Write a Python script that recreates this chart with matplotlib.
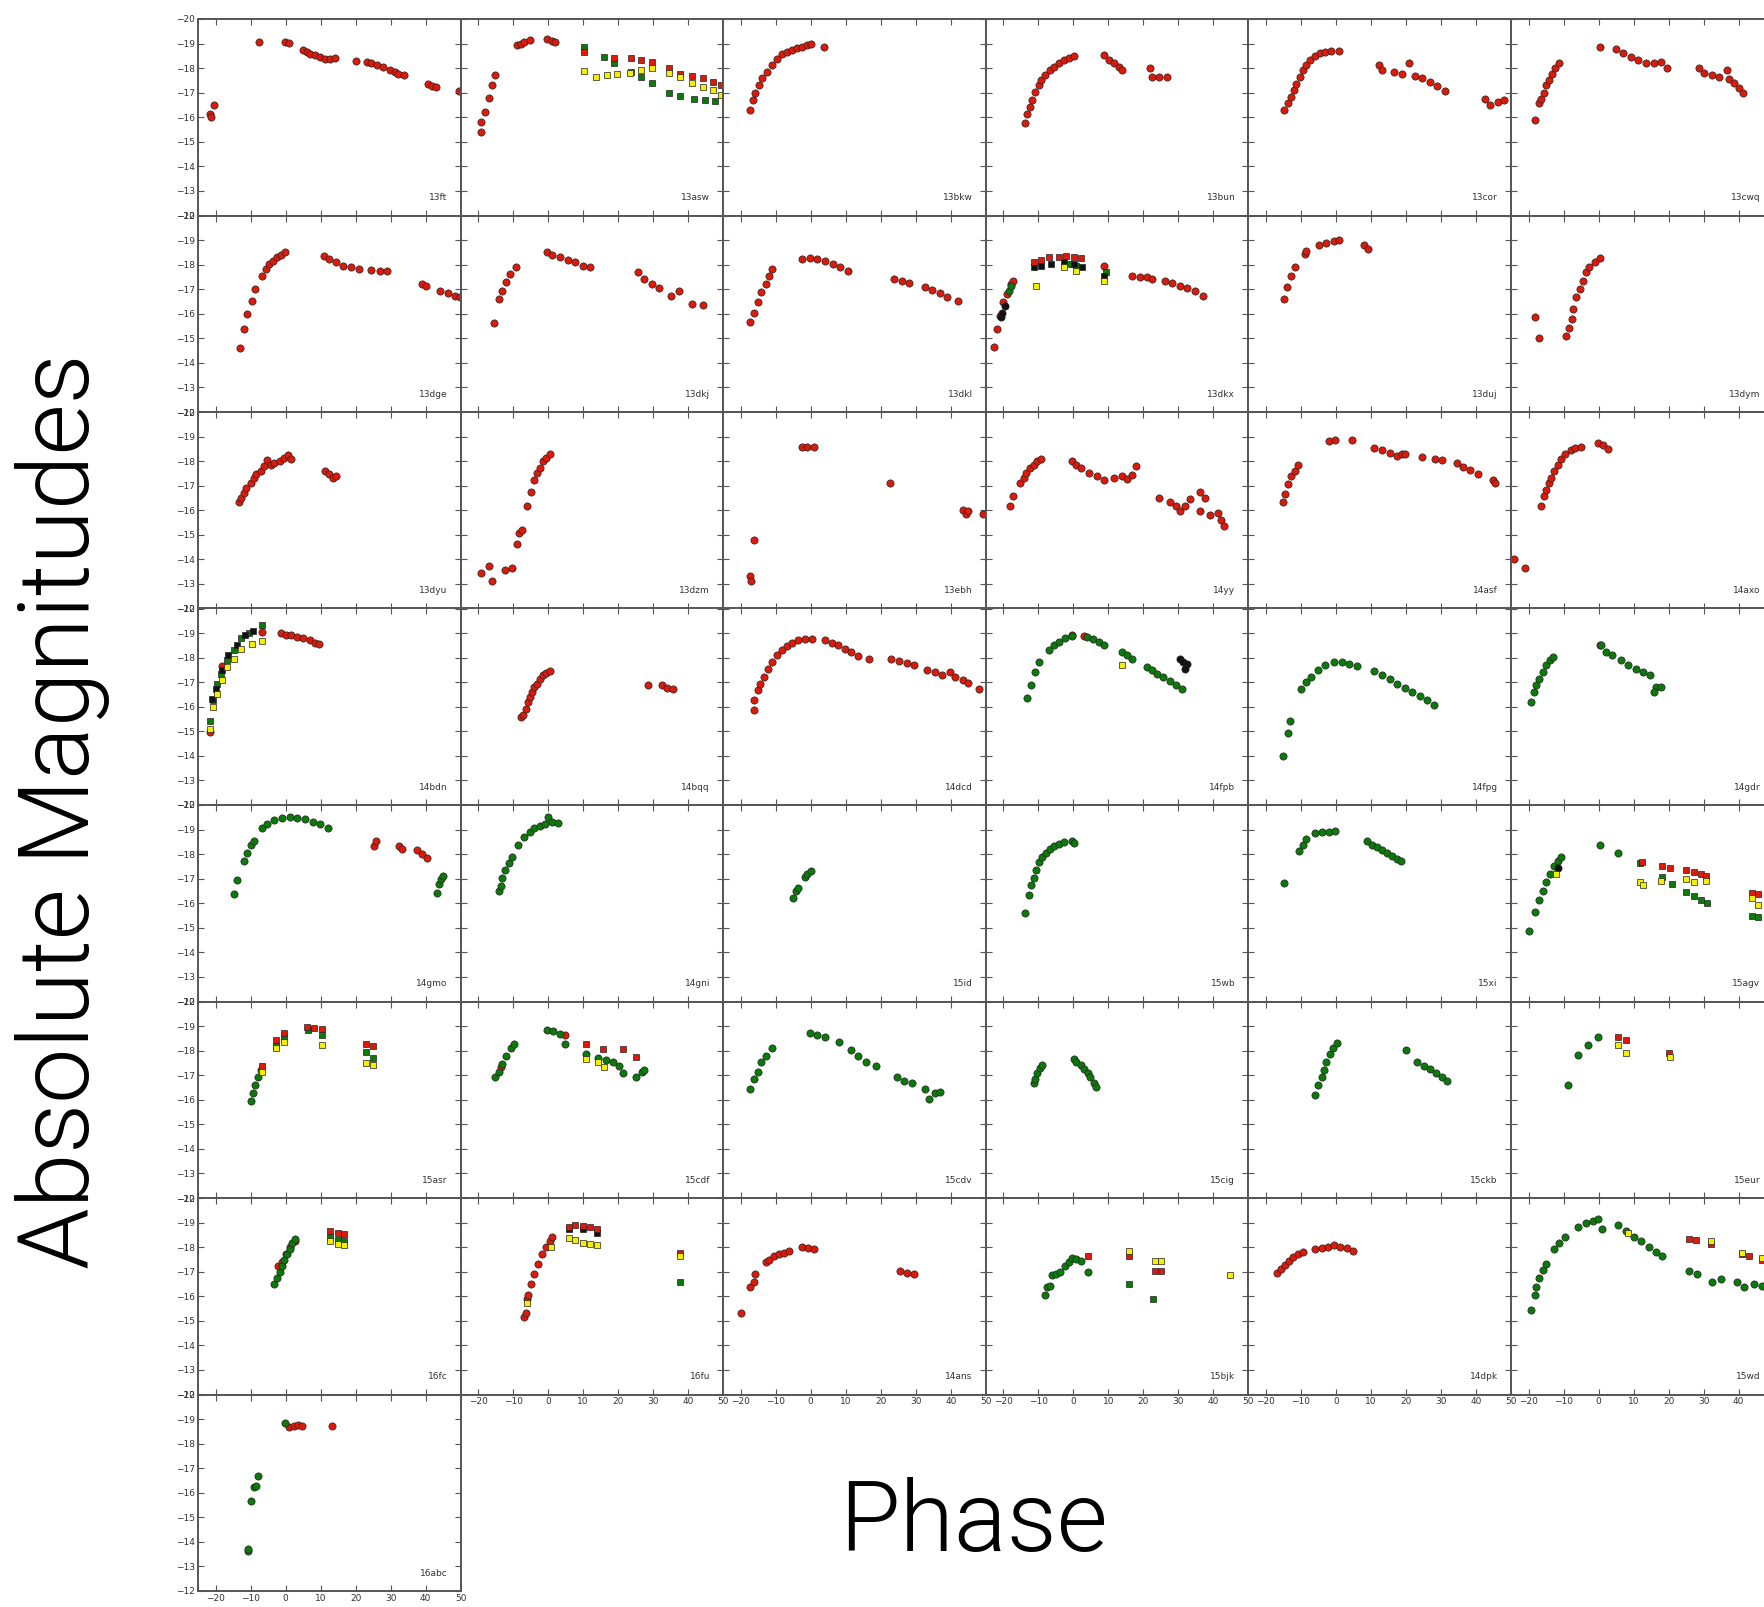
"""
Light curves of the sample: absolute magnitude vs phase, one panel per object
"""
import matplotlib.pyplot as plt

# ---- data: each panel maps a band/marker key -> (phase, magnitude) ----
sn13ft = {"r": ([-21.7, -21.3, -20.5, -7.7, -0.1, 0.9, 5.1, 6.1, 7.0, 8.5, 9.9, 11.3, 12.7, 14.2, 20.1, 23.2, 24.3, 26.0, 27.9, 29.8, 31.3, 32.2, 33.7, 40.8, 41.7, 43.0, 49.6],
                [-16.15, -16.0, -16.5, -19.07, -19.07, -19.03, -18.75, -18.66, -18.59, -18.52, -18.45, -18.38, -18.38, -18.42, -18.29, -18.24, -18.22, -18.11, -18.04, -17.93, -17.83, -17.76, -17.70, -17.35, -17.28, -17.22, -17.05])}
sn13asw = {"r": ([-19.2, -19.2, -18.0, -17.0, -16.0, -15.1, -9.0, -7.8, -6.8, -5.3, -0.3, 1.2, 1.9],
                 [-15.4, -15.8, -16.2, -16.8, -17.3, -17.7, -18.94, -19.0, -19.07, -19.14, -19.17, -19.12, -19.07]),
           "gs": ([10.2, 16.0, 18.9, 23.6, 26.5, 29.7, 34.6, 37.8, 41.6, 44.9, 47.8],
                  [-18.87, -18.46, -18.22, -17.85, -17.62, -17.40, -17.0, -16.86, -16.75, -16.69, -16.67]),
           "rs": ([10.2, 18.9, 23.6, 26.5, 29.7, 34.6, 37.8, 41.2, 44.1, 47.0, 49.5],
                  [-18.67, -18.4, -18.4, -18.35, -18.26, -17.99, -17.76, -17.67, -17.58, -17.44, -17.31]),
           "ys": ([10.2, 13.8, 16.9, 19.8, 23.3, 26.5, 29.7, 34.6, 37.8, 41.2, 44.1, 47.0, 49.5],
                  [-17.89, -17.62, -17.71, -17.78, -17.81, -17.92, -17.99, -17.81, -17.62, -17.40, -17.24, -17.10, -16.9])}
sn13bkw = {"r": ([-17.3, -16.6, -15.8, -14.8, -13.8, -12.6, -11.2, -9.7, -8.3, -6.8, -5.3, -3.9, -2.4, -1.0, 0.2, 3.8],
                 [-16.29, -16.69, -16.97, -17.31, -17.58, -17.85, -18.12, -18.39, -18.57, -18.67, -18.73, -18.80, -18.87, -18.94, -18.97, -18.87])}
sn13bun = {"r": ([-13.8, -13.1, -12.3, -11.8, -10.9, -9.9, -9.2, -8.0, -6.6, -5.6, -4.1, -2.7, -1.3, 0.2, 8.8, 10.3, 11.7, 13.1, 13.8, 21.8, 22.5, 24.6, 26.8],
                 [-15.77, -16.15, -16.42, -16.69, -17.03, -17.31, -17.51, -17.71, -17.92, -18.05, -18.19, -18.33, -18.42, -18.49, -18.53, -18.35, -18.22, -18.05, -17.92, -18.01, -17.65, -17.62, -17.62])}
sn13cor = {"r": ([-14.9, -13.8, -12.8, -12.1, -11.3, -10.3, -9.5, -8.5, -7.4, -6.0, -4.6, -3.1, -1.3, 0.9, 12.4, 13.1, 16.7, 18.9, 21.0, 22.5, 24.6, 26.8, 29.0, 31.1, 42.6, 44.1, 46.2, 48.1],
                 [-16.29, -16.56, -16.83, -17.10, -17.37, -17.65, -17.92, -18.12, -18.33, -18.49, -18.60, -18.67, -18.71, -18.71, -18.12, -17.92, -17.85, -17.76, -18.22, -17.67, -17.58, -17.44, -17.27, -17.07, -16.76, -16.49, -16.63, -16.69])}
sn13cwq = {"r": ([-18.1, -16.9, -16.4, -15.5, -14.9, -14.1, -13.3, -12.3, -11.2, 0.3, 4.9, 7.1, 9.2, 11.4, 13.6, 15.7, 17.9, 19.6, 28.7, 30.1, 32.3, 34.4, 36.6, 37.3, 38.7, 40.2, 41.2],
                 [-15.88, -16.56, -16.76, -16.97, -17.31, -17.51, -17.78, -17.99, -18.19, -18.87, -18.76, -18.63, -18.46, -18.33, -18.22, -18.19, -18.26, -17.99, -17.99, -17.81, -17.71, -17.62, -17.92, -17.54, -17.40, -17.21, -16.97])}

sn13dge = {"r": ([-12.9, -11.9, -10.9, -9.7, -8.7, -6.8, -5.6, -4.6, -3.5, -2.4, -1.3, -0.1, 11.0, 12.4, 14.3, 16.5, 18.7, 20.9, 24.5, 27.0, 28.9, 39.0, 40.1, 44.1, 46.3, 48.5, 49.7],
                 [-14.6, -15.37, -15.99, -16.50, -17.01, -17.55, -17.82, -18.03, -18.16, -18.30, -18.41, -18.50, -18.37, -18.23, -18.10, -17.96, -17.89, -17.82, -17.78, -17.76, -17.73, -17.21, -17.14, -16.94, -16.83, -16.73, -16.67])}
sn13dkj = {"r": ([-15.5, -14.1, -13.1, -11.9, -10.8, -9.3, -0.3, 1.2, 3.4, 5.6, 7.8, 9.9, 12.1, 25.7, 27.4, 29.6, 31.8, 35.0, 37.3, 41.2, 44.1],
                 [-15.61, -16.60, -16.94, -17.28, -17.62, -17.89, -18.50, -18.41, -18.30, -18.19, -18.10, -17.96, -17.89, -17.69, -17.41, -17.21, -17.05, -16.73, -16.94, -16.39, -16.37])}
sn13dkl = {"r": ([-17.3, -16.3, -15.2, -14.1, -12.9, -11.9, -11.2, -2.4, -0.3, 1.9, 4.1, 6.3, 8.5, 10.7, 23.8, 26.0, 28.1, 32.5, 34.7, 36.9, 39.0, 42.0],
                 [-15.65, -16.05, -16.46, -16.87, -17.21, -17.55, -17.82, -18.23, -18.27, -18.23, -18.16, -18.03, -17.89, -17.76, -17.41, -17.32, -17.24, -17.07, -16.96, -16.83, -16.69, -16.53])}
sn13dkx = {"r": ([-22.8, -21.8, -21.0, -20.0, -19.0, -17.8, -17.1, 8.8, 16.7, 18.9, 21.0, 22.5, 26.1, 28.2, 30.4, 32.6, 34.7, 36.9],
                 [-14.63, -15.37, -15.92, -16.46, -16.80, -17.21, -17.35, -17.96, -17.55, -17.51, -17.48, -17.41, -17.35, -17.24, -17.14, -17.05, -16.94, -16.73]),
           "k": ([-20.7, -20.4, -19.5], [-15.85, -16.05, -16.33]),
           "g": ([-18.5, -17.8], [-16.94, -17.14]),
           "ks": ([-11.3, -9.2, -6.3, -2.7, 0.2, 2.6, 8.8], [-17.89, -17.96, -18.03, -18.10, -18.03, -17.89, -17.55]),
           "gs": ([-1.3, 0.9, 9.2], [-18.03, -17.96, -17.69]),
           "rs": ([-11.3, -9.2, -7.0, -4.1, -2.0, 0.2, 2.3], [-18.10, -18.19, -18.30, -18.30, -18.37, -18.33, -18.27]),
           "ys": ([-10.6, -2.7, 0.9, 8.8], [-17.14, -17.89, -17.76, -17.35])}
sn13duj = {"r": ([-14.9, -13.9, -12.8, -11.8, -8.9, -8.5, -4.9, -2.7, -0.5, 0.9, 8.1, 9.2],
                 [-16.60, -17.07, -17.55, -17.89, -18.44, -18.57, -18.78, -18.87, -18.95, -19.01, -18.78, -18.64])}
sn13dym = {"r": ([-18.1, -16.9, -9.2, -8.3, -7.7, -7.3, -6.3, -5.4, -4.4, -3.7, -2.6, -1.1, 0.3],
                 [-15.88, -15.01, -15.10, -15.44, -15.78, -16.19, -16.67, -17.01, -17.35, -17.69, -17.89, -18.10, -18.27])}

sn13dyu = {"r": ([-13.4, -12.6, -11.9, -11.2, -10.0, -9.0, -8.3, -7.1, -6.1, -5.3, -4.2, -3.2, -1.7, -0.3, 0.8, 1.6, 11.4, 12.4, 13.6, 14.3],
                 [-16.33, -16.50, -16.71, -16.91, -17.09, -17.31, -17.46, -17.59, -17.80, -18.04, -17.86, -17.93, -18.0, -18.14, -18.23, -18.10, -17.59, -17.46, -17.31, -17.39])}
sn13dzm = {"r": ([-19.2, -17.0, -16.0, -12.2, -10.2, -9.0, -8.3, -7.5, -6.1, -4.9, -3.9, -3.2, -2.4, -1.4, -0.5, 0.5],
                 [-13.44, -13.74, -13.10, -13.58, -13.65, -14.64, -15.08, -15.19, -16.16, -16.74, -17.25, -17.52, -17.73, -18.0, -18.14, -18.27])}
sn13ebh = {"r": ([-17.3, -17.0, -16.3, -2.4, -1.0, 0.8, 22.6, 43.4, 44.4, 44.9, 49.2],
                 [-13.31, -13.10, -14.78, -18.59, -18.59, -18.59, -17.12, -16.03, -15.83, -15.96, -15.83])}
sn14yy = {"r": ([-18.1, -17.1, -15.2, -14.2, -13.5, -12.3, -11.3, -10.3, -9.2, -0.5, 0.9, 2.3, 4.5, 6.7, 8.8, 11.7, 13.8, 15.3, 16.7, 17.9, 24.6, 27.5, 29.4, 30.4, 31.8, 33.3, 36.2, 37.6, 36.2, 39.0, 41.2, 42.3, 42.9],
                [-16.16, -16.60, -17.12, -17.32, -17.52, -17.73, -17.86, -18.0, -18.10, -18.0, -17.86, -17.73, -17.52, -17.39, -17.25, -17.32, -17.39, -17.28, -17.42, -17.82, -16.50, -16.33, -16.19, -15.96, -16.16, -16.44, -16.73, -16.50, -15.96, -15.82, -15.89, -15.62, -15.35])}
sn14asf = {"r": ([-15.2, -14.6, -13.8, -12.8, -11.8, -10.9, -2.0, -0.3, 4.5, 11.0, 13.1, 15.3, 17.4, 18.9, 19.6, 24.6, 28.2, 30.4, 34.7, 36.2, 38.3, 40.5, 44.8, 45.5],
                 [-16.33, -16.68, -17.05, -17.39, -17.59, -17.86, -18.82, -18.88, -18.88, -18.54, -18.45, -18.34, -18.20, -18.27, -18.31, -18.18, -18.07, -18.04, -17.93, -17.77, -17.63, -17.46, -17.25, -17.09])}
sn14axo = {"r": ([-24.1, -21.0, -16.4, -15.5, -14.9, -14.1, -13.5, -12.6, -11.6, -10.6, -9.5, -8.0, -6.6, -5.1, -0.1, 1.3, 2.8],
                 [-14.01, -13.65, -16.16, -16.57, -16.84, -17.09, -17.32, -17.59, -17.86, -18.07, -18.27, -18.45, -18.54, -18.59, -18.75, -18.64, -18.50])}

sn14bdn = {"r": ([-21.7, -18.2, -6.8, -1.3, 0.2, 1.6, 3.4, 5.1, 7.0, 8.5, 9.5],
                 [-14.97, -17.66, -19.05, -19.02, -18.94, -18.91, -18.84, -18.80, -18.71, -18.61, -18.57]),
           "gs": ([-21.7, -20.6, -19.6, -18.4, -16.7, -14.8, -12.6, -10.4, -6.8],
                  [-15.44, -16.26, -16.94, -17.35, -17.89, -18.30, -18.78, -19.02, -19.32]),
           "ks": ([-21.1, -19.9, -18.2, -16.3, -13.8, -11.5, -9.4],
                  [-16.33, -16.73, -17.48, -18.10, -18.50, -18.91, -19.07]),
           "ys": ([-21.7, -20.6, -19.6, -18.2, -16.7, -14.8, -12.6, -9.7, -6.8],
                  [-15.10, -15.99, -16.53, -17.07, -17.62, -17.96, -18.37, -18.57, -18.67])}
sn14bqq = {"r": ([-7.8, -7.2, -6.4, -5.8, -5.3, -4.6, -3.9, -3.2, -2.4, -1.4, -0.5, 0.5, 28.6, 32.5, 34.0, 35.8],
                 [-15.58, -15.67, -15.92, -16.19, -16.39, -16.60, -16.80, -16.94, -17.14, -17.28, -17.39, -17.44, -16.87, -16.87, -16.76, -16.71])}
sn14dcd = {"r": ([-16.3, -16.3, -15.2, -14.4, -13.4, -12.3, -11.2, -9.7, -8.3, -6.8, -5.3, -3.6, -1.7, 0.5, 4.1, 6.0, 7.8, 9.9, 11.4, 13.6, 16.5, 23.0, 25.2, 27.4, 29.6, 33.2, 35.4, 37.6, 39.8, 41.2, 43.4, 44.9, 48.2],
                 [-15.85, -16.26, -16.67, -16.94, -17.21, -17.55, -17.82, -18.10, -18.30, -18.48, -18.61, -18.71, -18.75, -18.75, -18.71, -18.61, -18.50, -18.37, -18.23, -18.07, -17.96, -17.96, -17.85, -17.78, -17.71, -17.48, -17.41, -17.31, -17.41, -17.21, -17.07, -16.98, -16.73])}
sn14fpb = {"g": ([-13.2, -12.1, -10.9, -9.9, -7.0, -5.6, -4.1, -2.3, -0.5, 3.8, 5.5, 7.4, 8.8, 13.8, 15.3, 16.7, 21.0, 22.5, 23.9, 25.6, 27.5, 29.4, 31.1],
                 [-16.35, -16.87, -17.41, -17.82, -18.30, -18.50, -18.64, -18.78, -18.88, -18.84, -18.75, -18.64, -18.53, -18.23, -18.10, -17.93, -17.62, -17.48, -17.35, -17.21, -17.03, -16.90, -16.73]),
           "r": ([-0.3, 3.1], [-18.91, -18.88]),
           "k": ([30.4, 31.4, 32.6, 31.8], [-17.96, -17.82, -17.76, -17.55]),
           "ys": ([13.8], [-17.69])}
sn14fpg = {"g": ([-15.2, -13.8, -13.2, -9.9, -8.5, -7.0, -5.1, -3.1, -0.5, 1.6, 3.8, 5.9, 11.0, 13.1, 15.3, 17.4, 19.6, 21.8, 23.9, 26.1, 27.9],
                 [-13.99, -14.94, -15.44, -16.73, -17.01, -17.21, -17.48, -17.71, -17.82, -17.82, -17.76, -17.66, -17.44, -17.28, -17.12, -16.94, -16.76, -16.60, -16.44, -16.26, -16.08])}
sn14gdr = {"g": ([-19.2, -18.4, -17.8, -16.9, -15.9, -14.9, -13.8, -13.1, 0.6, 2.1, 3.8, 6.4, 8.5, 10.7, 12.8, 14.7, 16.4, 15.7, 17.9],
                 [-16.19, -16.60, -16.87, -17.14, -17.41, -17.69, -17.89, -18.03, -18.50, -18.23, -18.10, -17.89, -17.71, -17.55, -17.41, -17.31, -16.80, -16.60, -16.80]),
           "r": ([0.3], [-18.53])}

sn14gmo = {"g": ([-14.8, -13.8, -11.9, -10.9, -10.0, -9.0, -6.8, -5.3, -3.2, -1.0, 1.2, 3.4, 5.6, 7.8, 9.9, 12.1, 43.4, 43.9, 44.4, 44.9],
                 [-16.39, -16.94, -17.73, -18.05, -18.37, -18.53, -19.08, -19.24, -19.40, -19.48, -19.52, -19.48, -19.43, -19.32, -19.21, -19.05, -16.42, -16.78, -16.99, -17.10]),
           "r": ([25.2, 25.9, 32.5, 33.2, 37.6, 39.0, 40.5], [-18.32, -18.53, -18.32, -18.21, -18.16, -18.0, -17.84])}
sn14gni = {"g": ([-14.1, -13.6, -13.1, -12.2, -11.2, -10.2, -8.7, -6.8, -5.3, -3.9, -2.4, -1.0, 0.0, 1.2, 2.9],
                 [-16.51, -16.70, -17.02, -17.34, -17.65, -17.89, -18.37, -18.68, -18.89, -19.05, -19.16, -19.24, -19.52, -19.32, -19.27])}
sn15id = {"g": ([-5.1, -4.2, -3.6, -1.7, -1.0, 0.2], [-16.23, -16.51, -16.62, -17.05, -17.21, -17.31])}
sn15wb = {"g": ([-13.8, -12.8, -12.1, -11.3, -10.6, -9.9, -8.9, -7.7, -6.6, -5.6, -4.1, -2.7, -0.5, 0.2],
                [-15.59, -16.35, -16.74, -17.02, -17.34, -17.69, -17.89, -18.05, -18.21, -18.32, -18.42, -18.48, -18.53, -18.45])}
sn15xi = {"g": ([-14.9, -10.6, -9.5, -8.5, -6.0, -4.1, -2.0, -0.3, 8.8, 10.3, 11.7, 13.1, 14.6, 16.0, 17.4, 18.5],
                [-16.83, -18.13, -18.37, -18.61, -18.84, -18.89, -18.92, -18.95, -18.53, -18.37, -18.29, -18.16, -18.05, -17.94, -17.81, -17.73])}
sn15agv = {"g": ([-19.8, -18.1, -16.9, -15.9, -14.9, -13.8, -12.6, -11.6, -10.6, 0.3, 5.6],
                 [-14.88, -15.63, -16.15, -16.51, -16.86, -17.18, -17.50, -17.73, -17.89, -18.37, -18.05]),
           "k": ([-11.6], [-17.42]),
           "gs": ([11.8, 18.2, 21.0, 25.1, 27.2, 29.4, 31.1, 43.8, 45.5],
                  [-17.62, -17.05, -16.78, -16.47, -16.31, -16.15, -15.99, -15.47, -15.44]),
           "rs": ([12.4, 18.2, 20.5, 25.1, 27.2, 29.4, 30.8, 43.8, 45.5],
                  [-17.69, -17.50, -17.42, -17.34, -17.26, -17.18, -17.10, -16.42, -16.36]),
           "ys": ([-12.1, 11.8, 12.8, 17.9, 25.1, 27.2, 30.8, 43.8, 45.5],
                  [-17.21, -16.86, -16.74, -16.89, -16.99, -16.86, -16.89, -16.20, -15.94])}

sn15asr = {"g": ([-10.0, -9.4, -8.6, -8.0, -7.1], [-15.96, -16.28, -16.59, -16.91, -17.23]),
           "gs": ([-2.7, -0.3, 6.3, 10.4, 23.0, 24.9], [-18.18, -18.57, -18.84, -18.65, -17.94, -17.70]),
           "rs": ([-6.8, -2.7, -0.3, 6.0, 8.0, 10.4, 23.0, 24.9], [-17.39, -18.42, -18.73, -18.97, -18.94, -18.89, -18.26, -18.18]),
           "ys": ([-6.8, -2.7, -0.3, 10.4, 23.0, 24.9], [-17.15, -18.10, -18.34, -18.21, -17.51, -17.42])}
sn15cdf = {"g": ([-15.1, -14.1, -13.1, -11.9, -10.7, -9.7, -0.3, 1.5, 3.4, 4.8, 10.7, 14.3, 16.5, 18.4, 20.1, 21.3, 25.2, 26.7, 27.4],
                 [-16.91, -17.15, -17.46, -17.78, -18.10, -18.26, -18.84, -18.78, -18.68, -18.26, -17.86, -17.70, -17.62, -17.54, -17.39, -17.07, -16.91, -17.15, -17.23]),
           "r": ([-13.6, 4.8], [-17.35, -18.62]),
           "rs": ([10.7, 15.8, 21.3, 25.2], [-18.26, -18.05, -18.05, -17.73]),
           "ys": ([10.7, 14.3, 16.0], [-17.67, -17.54, -17.35])}
sn15cdv = {"g": ([-17.3, -16.3, -15.2, -14.1, -12.9, -11.2, -0.3, 1.9, 4.1, 8.0, 11.4, 13.6, 15.8, 18.7, 24.5, 26.7, 28.9, 32.5, 33.7, 35.4, 36.9],
                 [-16.43, -16.83, -17.15, -17.54, -17.78, -18.10, -18.73, -18.65, -18.57, -18.34, -18.02, -17.78, -17.54, -17.39, -16.91, -16.75, -16.67, -16.43, -16.04, -16.28, -16.31])}
sn15cig = {"g": ([-11.3, -10.9, -10.3, -9.5, -8.9, 0.2, 0.9, 2.1, 3.1, 4.1, 4.9, 5.9, 6.4],
                 [-16.67, -16.83, -17.07, -17.31, -17.42, -17.67, -17.54, -17.42, -17.26, -17.10, -16.91, -16.67, -16.51])}
sn15ckb = {"g": ([-6.0, -5.1, -4.1, -3.4, -2.7, -1.7, -0.8, 0.2, 19.9, 23.2, 25.1, 26.8, 28.6, 30.4, 31.8],
                 [-16.20, -16.59, -16.94, -17.23, -17.54, -17.86, -18.10, -18.30, -18.02, -17.54, -17.39, -17.26, -17.07, -16.91, -16.75])}
sn15eur = {"g": ([-8.7, -5.9, -3.0, -0.1], [-16.62, -17.84, -18.24, -18.56]),
           "rs": ([5.6, 7.8, 20.0], [-18.56, -18.43, -17.92]),
           "ys": ([5.6, 7.8, 20.5], [-18.21, -17.89, -17.73])}

sn16fc = {"g": ([-3.2, -2.4, -1.7, -1.0, -0.3, 0.5, 1.2, 1.9, 2.7], [-16.51, -16.75, -16.99, -17.23, -17.46, -17.70, -17.94, -18.18, -18.34]),
          "r": ([-2.1, -1.0, 0.2, 1.2, 2.7], [-17.23, -17.39, -17.70, -18.02, -18.26]),
          "gs": ([12.8, 15.0, 16.8], [-18.42, -18.29, -18.26]),
          "rs": ([12.8, 15.0, 16.8], [-18.65, -18.57, -18.54]),
          "ys": ([12.8, 15.0, 16.8], [-18.23, -18.13, -18.07])}
sn16fu = {"r": ([-6.8, -6.4, -6.1, -5.8, -4.9, -3.9, -2.9, -1.7, -0.5, 0.5, 1.2],
                [-15.17, -15.33, -15.88, -16.04, -16.51, -16.91, -17.31, -17.70, -18.02, -18.26, -18.42]),
          "gs": ([37.6], [-16.59]),
          "ks": ([5.9, 9.9, 14.0], [-18.73, -18.73, -18.57]),
          "rs": ([5.9, 7.8, 9.9, 12.1, 14.0, 37.6], [-18.81, -18.89, -18.86, -18.81, -18.73, -17.78]),
          "ys": ([-6.1, 0.9, 5.9, 7.8, 9.9, 12.1, 14.0, 37.6], [-15.72, -18.02, -18.38, -18.29, -18.18, -18.13, -18.07, -17.62])}
sn14ans = {"r": ([-19.9, -17.3, -16.3, -15.8, -12.9, -11.9, -10.4, -9.0, -7.5, -6.1, -2.4, -0.7, 0.8, 25.5, 27.4, 29.6],
                 [-15.33, -16.36, -16.59, -16.91, -17.39, -17.46, -17.62, -17.70, -17.78, -17.86, -18.02, -17.97, -17.91, -17.02, -16.96, -16.91])}
sn15bjk = {"g": ([-8.0, -7.4, -6.6, -6.0, -4.9, -3.7, -2.3, -1.3, -0.3, 0.9, 2.3, 4.1],
                 [-16.04, -16.36, -16.43, -16.86, -16.91, -16.99, -17.23, -17.39, -17.54, -17.50, -17.43, -16.99]),
           "gs": ([16.0, 22.8], [-16.51, -15.88]),
           "rs": ([4.1, 16.0, 23.2, 25.1], [-17.62, -17.62, -17.02, -17.02]),
           "ys": ([16.0, 23.2, 25.1, 44.8], [-17.86, -17.43, -17.43, -16.86])}
sn14dpk = {"r": ([-16.7, -15.6, -14.6, -13.5, -12.3, -10.9, -9.5, -6.0, -4.1, -2.3, -0.5, 1.2, 3.1, 4.9],
                 [-16.96, -17.12, -17.27, -17.43, -17.59, -17.70, -17.81, -17.91, -17.97, -18.02, -18.07, -18.02, -17.97, -17.86])}
sn15wd = {"g": ([-19.2, -18.1, -17.8, -16.9, -15.9, -14.9, -12.6, -11.2, -9.5, -5.9, -3.7, -1.5, -0.1, 0.9, 5.6, 7.8, 10.0, 12.1, 14.3, 16.4, 18.2, 25.8, 28.0, 32.3, 34.9, 39.5, 41.6, 44.5, 46.7],
                [-15.44, -16.07, -16.36, -16.75, -17.07, -17.31, -17.94, -18.18, -18.42, -18.81, -18.97, -19.08, -19.13, -18.73, -18.92, -18.65, -18.42, -18.23, -18.02, -17.81, -17.65, -17.02, -16.91, -16.59, -16.70, -16.59, -16.36, -16.51, -16.43]),
          "rs": ([25.8, 27.7, 32.0, 40.9, 43.1, 46.7], [-18.34, -18.29, -18.13, -17.70, -17.62, -17.46]),
          "ys": ([8.5, 32.0, 40.9, 46.7], [-18.57, -18.26, -17.78, -17.54])}

sn16abc = {"g": ([-10.8, -10.6, -9.9, -8.9, -8.4, -8.0, -0.1], [-13.64, -13.69, -15.65, -16.24, -16.29, -16.68, -18.84]),
           "r": ([1.1, 2.3, 3.7, 4.7, 13.2], [-18.66, -18.73, -18.76, -18.73, -18.73])}

panels = [
    ("13ft", sn13ft), ("13asw", sn13asw), ("13bkw", sn13bkw), ("13bun", sn13bun), ("13cor", sn13cor), ("13cwq", sn13cwq),
    ("13dge", sn13dge), ("13dkj", sn13dkj), ("13dkl", sn13dkl), ("13dkx", sn13dkx), ("13duj", sn13duj), ("13dym", sn13dym),
    ("13dyu", sn13dyu), ("13dzm", sn13dzm), ("13ebh", sn13ebh), ("14yy", sn14yy), ("14asf", sn14asf), ("14axo", sn14axo),
    ("14bdn", sn14bdn), ("14bqq", sn14bqq), ("14dcd", sn14dcd), ("14fpb", sn14fpb), ("14fpg", sn14fpg), ("14gdr", sn14gdr),
    ("14gmo", sn14gmo), ("14gni", sn14gni), ("15id", sn15id), ("15wb", sn15wb), ("15xi", sn15xi), ("15agv", sn15agv),
    ("15asr", sn15asr), ("15cdf", sn15cdf), ("15cdv", sn15cdv), ("15cig", sn15cig), ("15ckb", sn15ckb), ("15eur", sn15eur),
    ("16fc", sn16fc), ("16fu", sn16fu), ("14ans", sn14ans), ("15bjk", sn15bjk), ("14dpk", sn14dpk), ("15wd", sn15wd),
    ("16abc", sn16abc),
]
phase_ticks = [-20, -10, 0, 10, 20, 30, 40, 50]
mag_ticks = [-20, -19, -18, -17, -16, -15, -14, -13, -12]

# marker style per key; draw order follows this dict
STYLE = {
    "r": dict(marker="o", mfc="#dc1a0c", ms=5.2),
    "g": dict(marker="o", mfc="#0b7a0b", ms=5.2),
    "k": dict(marker="o", mfc="#111111", ms=5.2),
    "gs": dict(marker="s", mfc="#0b7a0b", ms=4.7),
    "ks": dict(marker="s", mfc="#111111", ms=4.7),
    "rs": dict(marker="s", mfc="#dc1a0c", ms=4.7),
    "ys": dict(marker="s", mfc="#f4ef00", ms=4.7),
}

W, H = 1765, 1607
x0, pw = 198, 262.6
y0, ph = 19, 196.5
ncol = 6

fig = plt.figure(figsize=(W / 100, H / 100), dpi=100)

for i, (name, data) in enumerate(panels):
    r, c = divmod(i, ncol)
    ax = fig.add_axes([(x0 + c * pw) / W, 1 - (y0 + (r + 1) * ph) / H, pw / W, ph / H])
    for key, st in STYLE.items():
        if key in data:
            px, mag = data[key]
            ax.plot(px, mag, ls="none", mec="#222222", mew=0.5, **st)
    ax.set_xlim(-25, 50)
    ax.set_ylim(-12, -20)
    ax.set_xticks(phase_ticks)
    # last column runs off the figure edge, so drop its "50"
    xlabels = [f"{t}".replace("-", "\u2212") for t in phase_ticks]
    if c == ncol - 1:
        xlabels[-1] = ""
    ax.set_xticklabels(xlabels)
    ax.set_yticks(mag_ticks)
    # only the lowest panel of each column gets phase labels
    bottom = (i + ncol >= len(panels))
    ax.tick_params(direction="in", top=True, right=True, length=4, width=0.8,
                   color="#555555", labelsize=6.5, labelcolor="#333333", pad=2,
                   labelbottom=bottom, labelleft=(c == 0))
    for sp in ax.spines.values():
        sp.set_color("#555555")
        sp.set_linewidth(1.4)
    ax.text(0.95, 0.09, name, transform=ax.transAxes, ha="right", va="center",
            fontsize=6.5, color="#333333")

fig.text(63 / W, 1 - 811 / H, "Absolute Magnitudes", rotation=90, ha="center", va="center",
         fontsize=71, family="Roboto", weight=300)
fig.text(973 / W, 1 - 1524 / H, "Phase", ha="center", va="center",
         fontsize=71, family="Roboto", weight=300)

fig.savefig("out.png", dpi=100)
